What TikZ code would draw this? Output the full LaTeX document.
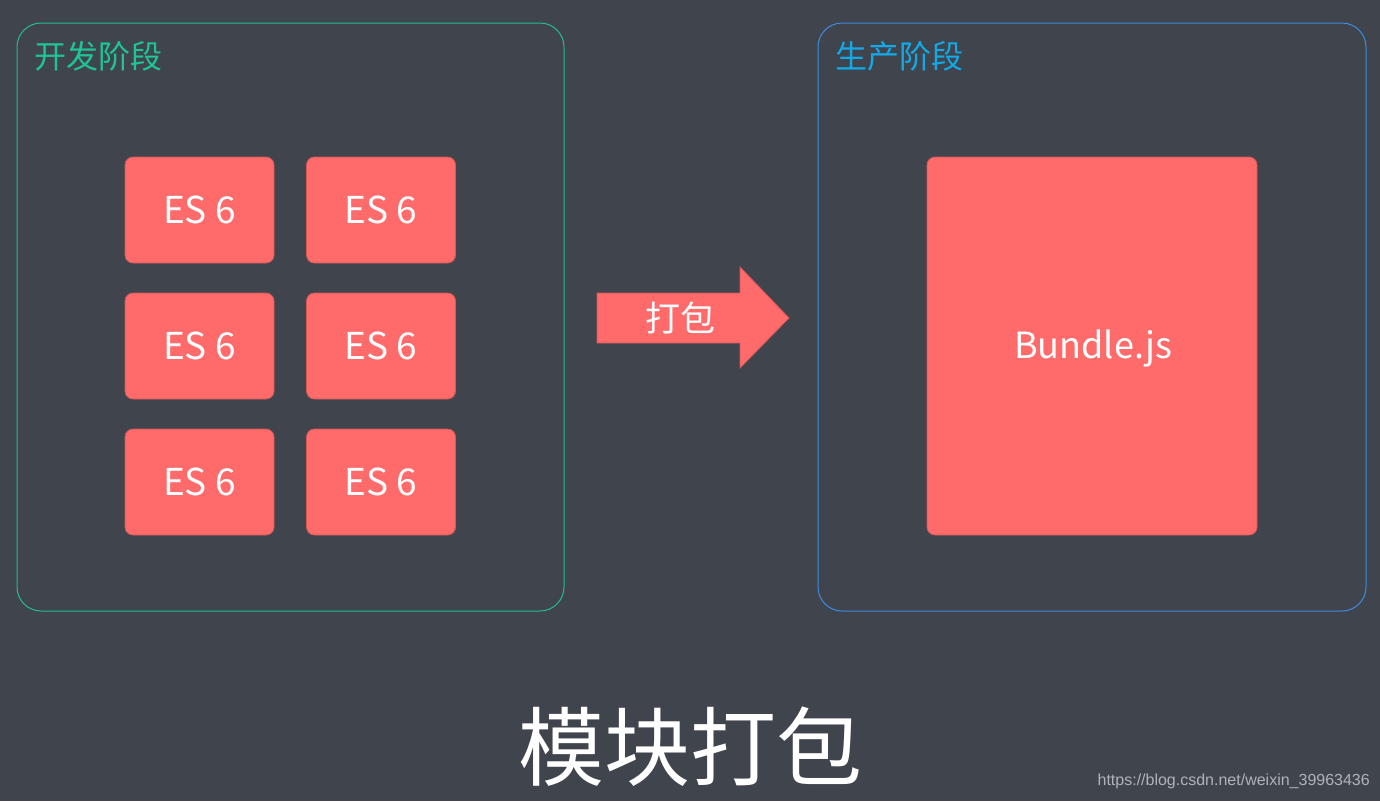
\documentclass[tikz,border=0pt]{standalone}
\usepackage{fontspec}
\setmainfont{Noto Sans CJK SC}
\newfontfamily\wmfont{Liberation Sans}
\definecolor{bg}{RGB}{64,68,77}
\definecolor{boxred}{RGB}{255,107,107}
\definecolor{boxedge}{RGB}{214,86,86}
\definecolor{devgreen}{RGB}{30,196,146}
\definecolor{prodblue}{RGB}{20,168,230}
\definecolor{framegreen}{RGB}{34,190,140}
\definecolor{frameblue}{RGB}{60,140,225}
\definecolor{wmgray}{RGB}{175,178,184}
\tikzset{
  frame/.style={draw, line width=1pt, rounded corners=24pt},
  esbox/.style={draw=boxedge, fill=boxred, line width=0.8pt, rounded corners=8pt,
    minimum width=149pt, minimum height=106pt, inner sep=0pt,
    text=white, font=\fontsize{37}{37}\selectfont},
  phase/.style={anchor=west, inner sep=0pt, font=\fontsize{32}{32}\selectfont},
}
\begin{document}
\begin{tikzpicture}[x=1pt,y=-1pt]
\fill[bg] (0,0) rectangle (1380,801);
\useasboundingbox (0,0) rectangle (1380,801);
% frames
\draw[frame, framegreen] (17,23) rectangle (564,611);
\draw[frame, frameblue] (818,23) rectangle (1366,611);
\node[phase, text=devgreen] (dev) at (34,56) {开发阶段};
\node[phase, text=prodblue] (prod) at (835,56) {生产阶段};
% ES6 boxes
\node[esbox] (e11) at (199.5,210) {ES 6};
\node[esbox] (e12) at (381,210) {ES 6};
\node[esbox] (e21) at (199.5,346) {ES 6};
\node[esbox] (e22) at (381,346) {ES 6};
\node[esbox] (e31) at (199.5,482) {ES 6};
\node[esbox] (e32) at (381,482) {ES 6};
% arrow
\draw[boxedge, fill=boxred, line width=0.8pt]
  (597,293) -- (740,293) -- (740,267) -- (789,318) -- (740,368) -- (740,343) -- (597,343) -- cycle;
\node[text=white, font=\fontsize{35}{35}\selectfont] (pack) at (680,318) {打包};
% bundle
\node[esbox, minimum width=330pt, minimum height=378pt, font=\fontsize{36}{36}\selectfont] (bundle) at (1092,346) {};
\node[text=white, font=\fontsize{36}{36}\selectfont] (bundletext) at (1093,349) {Bundle.js};
% title
\node[text=white, font=\fontsize{86}{86}\selectfont] (title) at (690,747) {模块打包};
% watermark
\node[text=wmgray, font=\wmfont\fontsize{16}{16}\selectfont, anchor=east, inner sep=0pt] (wm) at (1370,781) {https://blog.csdn.net/weixin\_39963436};
\end{tikzpicture}
\end{document}
